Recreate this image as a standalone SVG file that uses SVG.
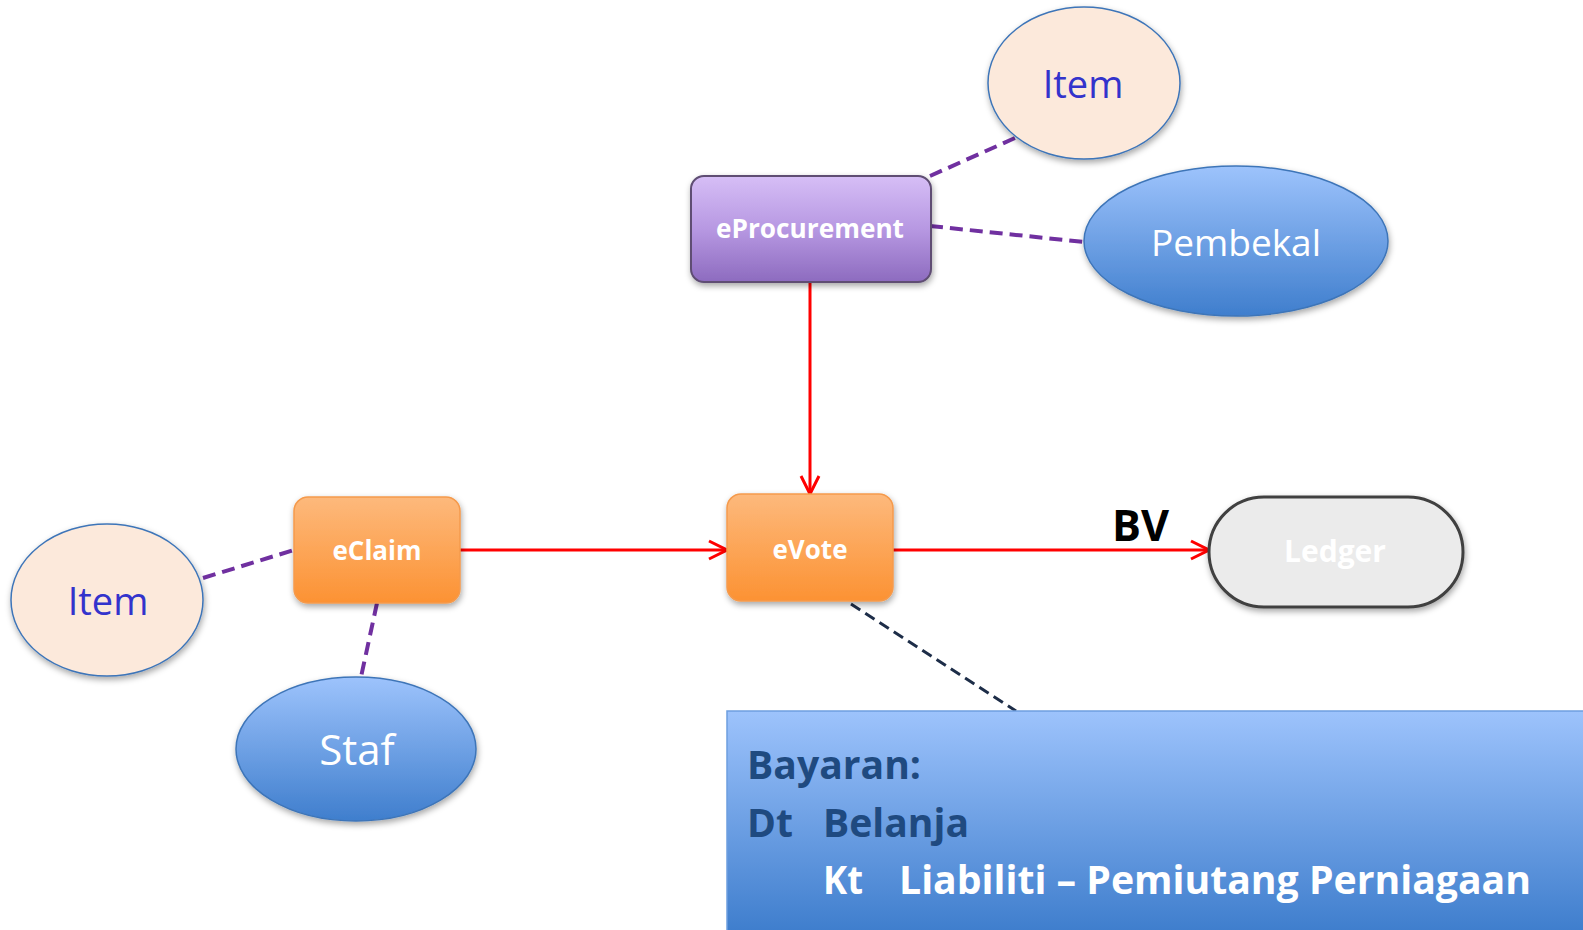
<svg xmlns="http://www.w3.org/2000/svg" width="1583" height="930" viewBox="0 0 1583 930">
<style>
.bold{font-family:"Open Sans","Liberation Sans",sans-serif;font-weight:bold}
.reg{font-family:"Open Sans","Liberation Sans",sans-serif}
.nodeTxt{fill:#ffffff;font-size:26px;text-anchor:middle}
.dashP{stroke:#7030a0;stroke-width:4;stroke-dasharray:13,7;fill:none}
.red{stroke:#ff0000;stroke-width:3;fill:none}
.ell{stroke:#3e75b8;stroke-width:1.5}
</style>
<defs>
<linearGradient id="gPurple" x1="0" y1="0" x2="0" y2="1"><stop offset="0" stop-color="#d6bef6"/><stop offset="0.5" stop-color="#b798e2"/><stop offset="1" stop-color="#8d6bbf"/></linearGradient>
<linearGradient id="gOrange" x1="0" y1="0" x2="0" y2="1"><stop offset="0" stop-color="#fdb97c"/><stop offset="1" stop-color="#fc9233"/></linearGradient>
<linearGradient id="gBlue" x1="0" y1="0" x2="0" y2="1"><stop offset="0" stop-color="#9dc3fc"/><stop offset="1" stop-color="#3f7ecd"/></linearGradient>
<filter id="sh" x="-20%" y="-20%" width="140%" height="150%"><feDropShadow dx="1" dy="3" stdDeviation="3" flood-color="#000" flood-opacity="0.35"/></filter>
<marker id="arr" viewBox="0 0 22 22" refX="20" refY="11" markerWidth="22" markerHeight="22" markerUnits="userSpaceOnUse" orient="auto"><path d="M2,2 L20,11 L2,20" fill="none" stroke="#ff0000" stroke-width="3"/></marker>
</defs>
<rect width="1583" height="930" fill="#ffffff"/>

<g id="connectors">
<line class="dashP" x1="930" y1="176" x2="1015" y2="138"/>
<line class="dashP" x1="930" y1="226" x2="1084" y2="242"/>
<line class="dashP" x1="203" y1="578" x2="294" y2="550"/>
<line class="dashP" x1="377" y1="603" x2="361" y2="677"/>
<line x1="851" y1="604" x2="1016" y2="711" stroke="#1d2d48" stroke-width="3" stroke-dasharray="11,6"/>
<line class="red" x1="810" y1="282" x2="810" y2="494" marker-end="url(#arr)"/>
<line class="red" x1="460" y1="550" x2="727" y2="550" marker-end="url(#arr)"/>
<line class="red" x1="893" y1="550" x2="1209" y2="550" marker-end="url(#arr)"/>
</g>

<g id="node-item-top">
<ellipse class="ell" cx="1084" cy="83" rx="96" ry="76" fill="#fce9db" filter="url(#sh)"/>
<text class="reg" x="1083" y="98" font-size="38" fill="#3333cc" text-anchor="middle">Item</text>
</g>
<g id="node-pembekal">
<ellipse class="ell" cx="1236" cy="241" rx="152" ry="75" fill="url(#gBlue)" filter="url(#sh)"/>
<text class="reg" x="1236" y="256" font-size="37" fill="#ffffff" text-anchor="middle">Pembekal</text>
</g>
<g id="node-eprocurement">
<rect x="691" y="176" width="240" height="106" rx="13" fill="url(#gPurple)" stroke="#5e4d73" stroke-width="2" filter="url(#sh)"/>
<text class="bold nodeTxt" x="810" y="238" font-size="27" textLength="188" lengthAdjust="spacingAndGlyphs">eProcurement</text>
</g>
<g id="node-item-left">
<ellipse class="ell" cx="107" cy="600" rx="96" ry="76" fill="#fce9db" filter="url(#sh)"/>
<text class="reg" x="108" y="615" font-size="38" fill="#3333cc" text-anchor="middle">Item</text>
</g>
<g id="node-staf">
<ellipse class="ell" cx="356" cy="749" rx="120" ry="72" fill="url(#gBlue)" filter="url(#sh)"/>
<text class="reg" x="357" y="765" font-size="42" fill="#ffffff" text-anchor="middle">Staf</text>
</g>
<g id="node-eclaim">
<rect x="294" y="497" width="166" height="106" rx="14" fill="url(#gOrange)" stroke="#f59a4c" stroke-width="1.5" filter="url(#sh)"/>
<text class="bold nodeTxt" x="377" y="560">eClaim</text>
</g>
<g id="node-evote">
<rect x="727" y="494" width="166" height="107" rx="14" fill="url(#gOrange)" stroke="#f59a4c" stroke-width="1.5" filter="url(#sh)"/>
<text class="bold nodeTxt" x="810" y="559">eVote</text>
</g>
<g id="node-ledger">
<rect x="1209" y="497" width="254" height="110" rx="55" fill="#ebebeb" stroke="#404040" stroke-width="3" filter="url(#sh)"/>
<text class="bold" x="1335" y="562" font-size="30" fill="#ffffff" text-anchor="middle">Ledger</text>
</g>
<g id="label-bv">
<text class="bold" x="1112" y="541" font-size="43" fill="#000000" textLength="57" lengthAdjust="spacingAndGlyphs">BV</text>
</g>
<g id="node-note">
<rect x="727" y="711" width="857" height="220" fill="url(#gBlue)" stroke="#6d9fe0" stroke-width="1.5"/>
<text class="bold" x="747" y="779" font-size="40" fill="#1f4a80" textLength="174" lengthAdjust="spacingAndGlyphs">Bayaran:</text>
<text class="bold" x="747" y="837" font-size="40" fill="#1f4a80" textLength="46" lengthAdjust="spacingAndGlyphs">Dt</text>
<text class="bold" x="823" y="837" font-size="40" fill="#1f4a80" textLength="146" lengthAdjust="spacingAndGlyphs">Belanja</text>
<text class="bold" x="823" y="894" font-size="40" fill="#ffffff" textLength="40" lengthAdjust="spacingAndGlyphs">Kt</text>
<text class="bold" x="899" y="894" font-size="39" fill="#ffffff" textLength="632" lengthAdjust="spacingAndGlyphs">Liabiliti – Pemiutang Perniagaan</text>
</g>
</svg>
